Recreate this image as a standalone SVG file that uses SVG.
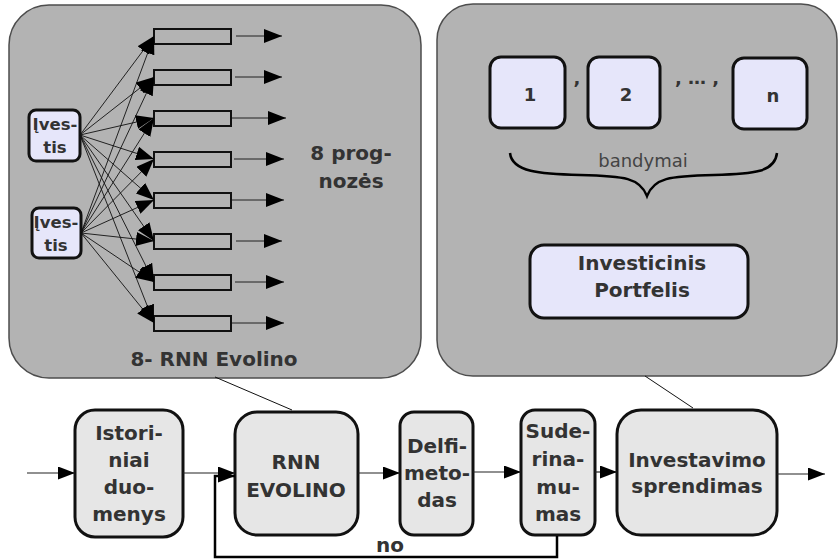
<svg xmlns="http://www.w3.org/2000/svg" width="839" height="560" viewBox="0 0 839 560">
<defs>
<style>
.panel{fill:#b3b3b3;stroke:#4d4d4d;stroke-width:1.5}
.inp{fill:#e6e6fa;stroke:#111;stroke-width:3}
.box{fill:#e6e6e6;stroke:#111;stroke-width:3}
.cell{fill:none;stroke:#111;stroke-width:2}
.t{font-family:"DejaVu Sans","Liberation Sans",sans-serif;font-weight:bold;fill:#333;text-anchor:middle}
.thin{fill:none;stroke:#111;stroke-width:1}
.flow{fill:none;stroke:#222;stroke-width:1.2}
.fan{fill:none;stroke:#111;stroke-width:0.9}
</style>
<marker id="ah" markerUnits="userSpaceOnUse" viewBox="0 0 17 13" refX="17" refY="6.5" markerWidth="17" markerHeight="13" orient="auto">
<path d="M0,0 L17,6.5 L0,13 z" fill="#000"/>
</marker>
<marker id="ahfan" markerUnits="userSpaceOnUse" viewBox="0 0 18 14" refX="18" refY="7" markerWidth="18" markerHeight="14" orient="auto">
<path d="M0,0 L18,7 L0,14 z" fill="#000"/>
</marker>
<marker id="ahf" markerUnits="userSpaceOnUse" viewBox="0 0 18 14" refX="18" refY="7" markerWidth="18" markerHeight="14" orient="auto">
<path d="M0,0 L18,7 L0,14 z" fill="#000"/>
</marker>
</defs>

<g id="panel-left">
<rect class="panel" x="9" y="5" width="412" height="373" rx="40"/>
<text class="t" x="351" y="160" font-size="20">8 prog-</text>
<text class="t" x="351" y="188" font-size="20">nozės</text>
<text class="t" x="214" y="366" font-size="20">8- RNN Evolino</text>
</g>

<g id="panel-right">
<rect class="panel" x="437" y="4" width="400" height="372" rx="36"/>
</g>

<g id="input1">
<rect class="inp" x="29" y="110" width="51" height="51" rx="7"/>
<text class="t" x="55" y="130" font-size="16.5">Įves-</text>
<text class="t" x="55" y="153" font-size="16.5">tis</text>
</g>
<g id="input2">
<rect class="inp" x="32" y="208" width="49" height="50" rx="7"/>
<text class="t" x="56" y="228" font-size="16.5">Įves-</text>
<text class="t" x="56" y="251" font-size="16.5">tis</text>
</g>

<g id="cells">
<rect class="cell" x="154" y="29" width="77" height="15"/>
<rect class="cell" x="154" y="70" width="77" height="15"/>
<rect class="cell" x="154" y="111" width="77" height="15"/>
<rect class="cell" x="154" y="152" width="77" height="15"/>
<rect class="cell" x="154" y="193" width="77" height="15"/>
<rect class="cell" x="154" y="234" width="77" height="15"/>
<rect class="cell" x="154" y="275" width="77" height="15"/>
<rect class="cell" x="154" y="316" width="77" height="15"/>
</g>

<g id="trial1">
<rect class="inp" x="490" y="57" width="75" height="71" rx="11"/>
<text class="t" x="530" y="101" font-size="18">1</text>
</g>
<g id="trial2">
<rect class="inp" x="588" y="57" width="72" height="71" rx="11"/>
<text class="t" x="626" y="101" font-size="18">2</text>
</g>
<g id="trialn">
<rect class="inp" x="733" y="58" width="74" height="71" rx="11"/>
<text class="t" x="773" y="102" font-size="18">n</text>
</g>
<g id="seps">
<text class="t" x="577" y="84" font-size="18">,</text>
<text class="t" x="697" y="84" font-size="18">, … ,</text>
</g>
<g id="brace">
<path d="M510,153 C512,172 540,174 580,175 C625,176 640,178 647,196 C654,178 669,176 714,175 C754,174 775,172 777,153" fill="none" stroke="#000" stroke-width="2.5"/>
<text x="643" y="167" font-family="DejaVu Sans,Liberation Sans,sans-serif" font-size="18" fill="#444" text-anchor="middle">bandymai</text>
</g>
<g id="portfolio">
<rect class="inp" x="530" y="245" width="218" height="73" rx="14"/>
<text class="t" x="642" y="270" font-size="20">Investicinis</text>
<text class="t" x="642" y="297" font-size="20">Portfelis</text>
</g>

<g id="istoriniai">
<rect class="box" x="75" y="410" width="108" height="127" rx="20"/>
<text class="t" x="129" y="440" font-size="20">Istori-</text>
<text class="t" x="129" y="467" font-size="20">niai</text>
<text class="t" x="129" y="494" font-size="20">duo-</text>
<text class="t" x="129" y="521" font-size="20">menys</text>
</g>
<g id="rnn">
<rect class="box" x="235" y="412" width="123" height="123" rx="22"/>
<text class="t" x="296" y="469" font-size="20">RNN</text>
<text class="t" x="296" y="497" font-size="20">EVOLINO</text>
</g>
<g id="delfi">
<rect class="box" x="400" y="412" width="73" height="123" rx="14"/>
<text class="t" x="437" y="453" font-size="20">Delfi-</text>
<text class="t" x="437" y="480" font-size="20">meto-</text>
<text class="t" x="437" y="507" font-size="20">das</text>
</g>
<g id="suderinamumas">
<rect class="box" x="521" y="410" width="74" height="125" rx="14"/>
<text class="t" x="558" y="438" font-size="20">Sude-</text>
<text class="t" x="558" y="466" font-size="20">rina-</text>
<text class="t" x="558" y="494" font-size="20">mu-</text>
<text class="t" x="558" y="521" font-size="20">mas</text>
</g>
<g id="investavimo">
<rect class="box" x="617" y="410" width="160" height="125" rx="24"/>
<text class="t" x="697" y="467" font-size="20">Investavimo</text>
<text class="t" x="697" y="493" font-size="20">sprendimas</text>
</g>

<g id="connectors">
<g class="fan" marker-end="url(#ahfan)">
<line x1="80" y1="135" x2="154" y2="36"/>
<line x1="80" y1="135" x2="154" y2="77"/>
<line x1="80" y1="135" x2="154" y2="118"/>
<line x1="80" y1="135" x2="154" y2="159"/>
<line x1="80" y1="135" x2="154" y2="200"/>
<line x1="80" y1="135" x2="154" y2="241"/>
<line x1="80" y1="135" x2="154" y2="282"/>
<line x1="80" y1="135" x2="154" y2="323"/>
<line x1="81" y1="233" x2="154" y2="36"/>
<line x1="81" y1="233" x2="154" y2="77"/>
<line x1="81" y1="233" x2="154" y2="118"/>
<line x1="81" y1="233" x2="154" y2="159"/>
<line x1="81" y1="233" x2="154" y2="200"/>
<line x1="81" y1="233" x2="154" y2="241"/>
<line x1="81" y1="233" x2="154" y2="282"/>
<line x1="81" y1="233" x2="154" y2="323"/>
</g>
<g class="fan" marker-end="url(#ahf)">
<line x1="236" y1="36" x2="282" y2="36"/>
<line x1="235" y1="77" x2="282" y2="77"/>
<line x1="232" y1="118" x2="286" y2="118"/>
<line x1="234" y1="159" x2="284" y2="159"/>
<line x1="232" y1="200" x2="284" y2="200"/>
<line x1="236" y1="241" x2="282" y2="241"/>
<line x1="235" y1="282" x2="284" y2="282"/>
<line x1="232" y1="323" x2="284" y2="323"/>
</g>
<line class="thin" x1="215" y1="377" x2="292" y2="410"/>
<line class="thin" x1="645" y1="376" x2="693" y2="408"/>
<g class="flow" marker-end="url(#ah)">
<line x1="27" y1="473" x2="75" y2="473"/>
<line x1="183" y1="473" x2="235" y2="473"/>
<line x1="358" y1="473" x2="400" y2="473"/>
<line x1="473" y1="472" x2="521" y2="472"/>
<line x1="595" y1="472" x2="617" y2="472"/>
<line x1="777" y1="474" x2="825" y2="474"/>
</g>
<path d="M557,536 V557 H215 V476 L235,476" fill="none" stroke="#000" stroke-width="2.5" marker-end="url(#ah)"/>
<text class="t" x="390" y="552" font-size="20">no</text>
</g>
</svg>
